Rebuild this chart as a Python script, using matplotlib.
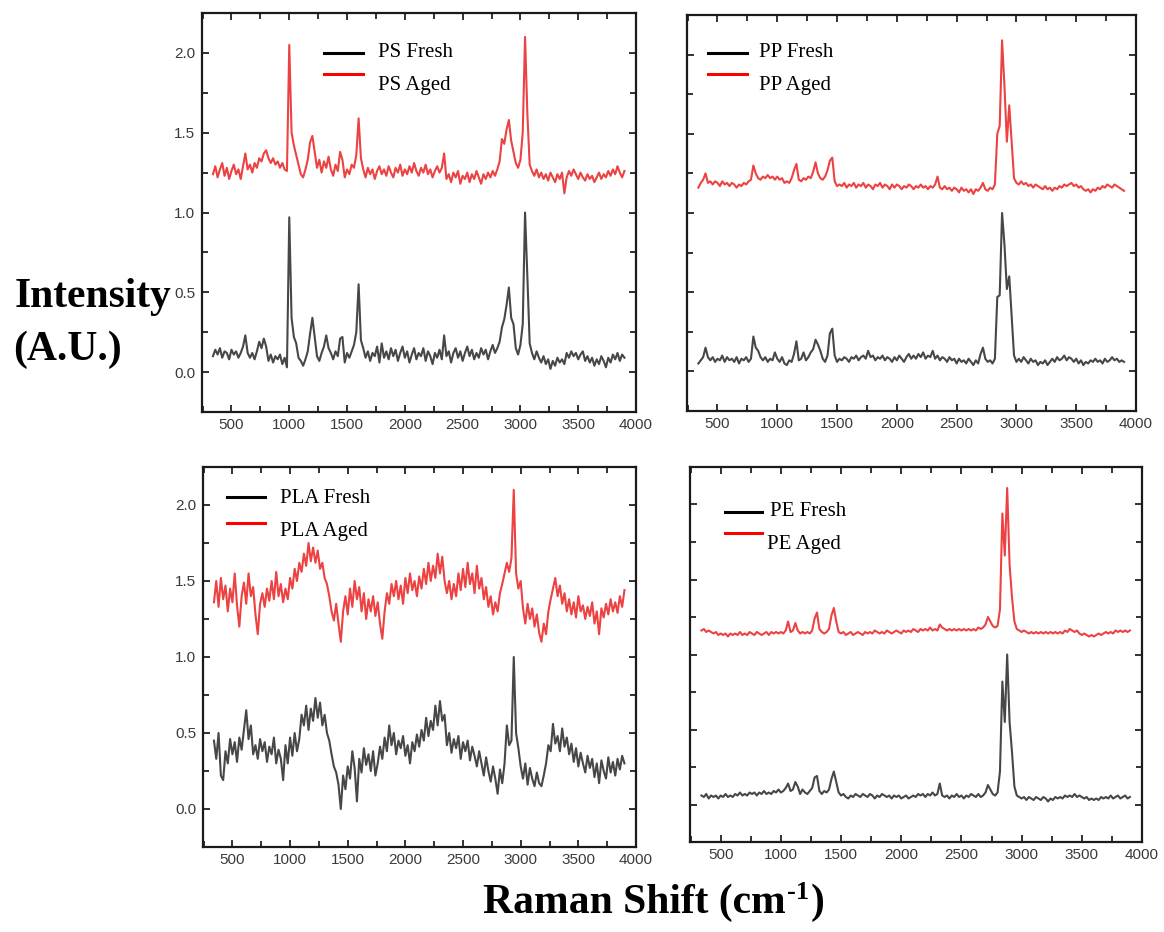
import numpy as np
import matplotlib
matplotlib.use("Agg")
import matplotlib.pyplot as plt
from matplotlib.lines import Line2D
from matplotlib.ticker import MultipleLocator

# Raman shift sampling grid (cm^-1)
raman_shift = np.arange(340, 3901, 20)

ps_fresh = [
    0.10, 0.14, 0.11, 0.15, 0.09, 0.13, 0.12, 0.08, 0.14, 0.11,
    0.13, 0.09, 0.12, 0.16, 0.23, 0.12, 0.09, 0.12, 0.08, 0.13,
    0.19, 0.15, 0.21, 0.16, 0.07, 0.11, 0.06, 0.10, 0.08, 0.11,
    0.05, 0.09, 0.03, 0.97, 0.34, 0.22, 0.18, 0.09, 0.07, 0.04,
    0.08, 0.13, 0.24, 0.34, 0.22, 0.10, 0.07, 0.12, 0.16, 0.23,
    0.15, 0.12, 0.08, 0.13, 0.10, 0.21, 0.22, 0.06, 0.12, 0.09,
    0.13, 0.17, 0.25, 0.55, 0.20, 0.15, 0.09, 0.13, 0.07, 0.12,
    0.10, 0.16, 0.06, 0.18, 0.09, 0.13, 0.08, 0.15, 0.10, 0.14,
    0.07, 0.12, 0.16, 0.09, 0.13, 0.06, 0.11, 0.15, 0.08, 0.12,
    0.10, 0.15, 0.07, 0.13, 0.10, 0.05, 0.12, 0.09, 0.14, 0.08,
    0.23, 0.10, 0.13, 0.06, 0.12, 0.15, 0.09, 0.13, 0.07, 0.12,
    0.16, 0.10, 0.14, 0.08, 0.12, 0.09, 0.15, 0.11, 0.14, 0.08,
    0.13, 0.17, 0.12, 0.15, 0.19, 0.28, 0.33, 0.42, 0.53, 0.34,
    0.30, 0.15, 0.11, 0.17, 0.30, 1.00, 0.60, 0.18, 0.12, 0.08,
    0.13, 0.09, 0.06, 0.10, 0.05, 0.08, 0.02, 0.07, 0.04, 0.09,
    0.06, 0.08, 0.05, 0.12, 0.09, 0.13, 0.10, 0.12, 0.08, 0.11,
    0.13, 0.07, 0.10, 0.06, 0.09, 0.04, 0.08, 0.05, 0.10, 0.07,
    0.03, 0.09, 0.06, 0.11, 0.08, 0.12, 0.07, 0.11, 0.09,
]

ps_aged = [
    1.24, 1.29, 1.22, 1.27, 1.31, 1.23, 1.28, 1.21, 1.26, 1.30,
    1.24, 1.27, 1.21, 1.29, 1.37, 1.27, 1.30, 1.25, 1.31, 1.28,
    1.34, 1.32, 1.37, 1.39, 1.34, 1.31, 1.34, 1.30, 1.32, 1.28,
    1.31, 1.27, 1.26, 2.05, 1.50, 1.42, 1.36, 1.30, 1.24, 1.22,
    1.27, 1.33, 1.44, 1.48, 1.38, 1.28, 1.33, 1.25, 1.32, 1.28,
    1.35, 1.27, 1.23, 1.30, 1.26, 1.38, 1.33, 1.22, 1.27, 1.24,
    1.30, 1.28, 1.36, 1.59, 1.34, 1.27, 1.22, 1.28, 1.24, 1.27,
    1.21, 1.26, 1.29, 1.24, 1.27, 1.23, 1.29, 1.25, 1.22, 1.28,
    1.25, 1.30, 1.23, 1.27, 1.24, 1.29, 1.25, 1.31, 1.26, 1.23,
    1.28, 1.25, 1.30, 1.24, 1.27, 1.22, 1.26, 1.29, 1.25, 1.28,
    1.37, 1.21, 1.24, 1.19, 1.25, 1.22, 1.26, 1.18, 1.23, 1.21,
    1.25, 1.19, 1.24, 1.21, 1.26, 1.22, 1.18, 1.24, 1.21, 1.25,
    1.22, 1.26, 1.23, 1.27, 1.32, 1.46, 1.43, 1.52, 1.58, 1.45,
    1.38, 1.31, 1.28, 1.33, 1.50, 2.10, 1.62, 1.30, 1.26, 1.23,
    1.27, 1.22, 1.25, 1.21, 1.24, 1.20, 1.25, 1.22, 1.19, 1.24,
    1.21, 1.25, 1.12, 1.22, 1.26, 1.23, 1.27, 1.24, 1.21, 1.25,
    1.22, 1.20, 1.24, 1.21, 1.23, 1.19, 1.22, 1.25, 1.21, 1.24,
    1.22, 1.26, 1.23, 1.27, 1.24, 1.29, 1.25, 1.22, 1.26,
]

pp_fresh = [
    0.05, 0.07, 0.09, 0.15, 0.09, 0.07, 0.09, 0.06, 0.08, 0.07,
    0.10, 0.06, 0.09, 0.07, 0.08, 0.06, 0.09, 0.05, 0.08, 0.07,
    0.09, 0.06, 0.08, 0.22, 0.15, 0.13, 0.09, 0.07, 0.09, 0.06,
    0.08, 0.07, 0.12, 0.08, 0.06, 0.09, 0.05, 0.04, 0.07, 0.06,
    0.11, 0.19, 0.07, 0.08, 0.12, 0.07, 0.09, 0.12, 0.14, 0.20,
    0.17, 0.13, 0.08, 0.06, 0.10, 0.24, 0.27, 0.10, 0.06, 0.08,
    0.07, 0.09, 0.08, 0.06, 0.09, 0.08, 0.10, 0.07, 0.09, 0.10,
    0.08, 0.13, 0.09, 0.10, 0.07, 0.09, 0.08, 0.10, 0.07, 0.09,
    0.08, 0.06, 0.09, 0.07, 0.10, 0.08, 0.06, 0.09, 0.11, 0.08,
    0.10, 0.08, 0.11, 0.09, 0.12, 0.08, 0.10, 0.09, 0.13, 0.08,
    0.10, 0.07, 0.09, 0.08, 0.06, 0.09, 0.07, 0.08, 0.05, 0.08,
    0.06, 0.07, 0.05, 0.08, 0.06, 0.04, 0.07, 0.05, 0.11, 0.15,
    0.08, 0.06, 0.07, 0.05, 0.08, 0.47, 0.48, 1.00, 0.80, 0.52,
    0.60, 0.35, 0.10, 0.06, 0.08, 0.06, 0.09, 0.07, 0.05, 0.08,
    0.06, 0.07, 0.04, 0.06, 0.05, 0.07, 0.04, 0.06, 0.08, 0.06,
    0.09, 0.07, 0.08, 0.10, 0.07, 0.09, 0.08, 0.06, 0.08, 0.05,
    0.07, 0.04, 0.06, 0.05, 0.07, 0.06, 0.08, 0.06, 0.07, 0.05,
    0.08, 0.06, 0.07, 0.09, 0.07, 0.08, 0.06, 0.07, 0.06,
]

pp_aged = [
    1.16, 1.19, 1.21, 1.25, 1.19, 1.20, 1.18, 1.20, 1.19, 1.17,
    1.20, 1.18, 1.19, 1.17, 1.19, 1.18, 1.16, 1.18, 1.17, 1.19,
    1.18, 1.20, 1.21, 1.30, 1.25, 1.22, 1.21, 1.23, 1.22, 1.24,
    1.22, 1.23, 1.21, 1.23, 1.21, 1.22, 1.19, 1.20, 1.19, 1.22,
    1.27, 1.31, 1.21, 1.20, 1.22, 1.21, 1.23, 1.22, 1.26, 1.32,
    1.25, 1.22, 1.21, 1.23, 1.27, 1.33, 1.35, 1.20, 1.17, 1.18,
    1.17, 1.19, 1.16, 1.18, 1.17, 1.19, 1.16, 1.18, 1.17, 1.19,
    1.16, 1.18, 1.17, 1.15, 1.18, 1.17, 1.19, 1.16, 1.18, 1.17,
    1.15, 1.18, 1.16, 1.18, 1.17, 1.15, 1.17, 1.16, 1.18, 1.17,
    1.15, 1.17, 1.16, 1.18, 1.16, 1.17, 1.15, 1.17, 1.16, 1.18,
    1.23, 1.16, 1.15, 1.17, 1.15, 1.16, 1.14, 1.16, 1.15, 1.13,
    1.16, 1.14, 1.15, 1.13, 1.15, 1.12, 1.15, 1.14, 1.16, 1.19,
    1.15, 1.14, 1.16, 1.15, 1.18, 1.50, 1.55, 2.09, 1.80, 1.45,
    1.68, 1.45, 1.22, 1.19, 1.18, 1.20, 1.18, 1.19, 1.17, 1.18,
    1.16, 1.18, 1.17, 1.16, 1.15, 1.17, 1.15, 1.16, 1.14, 1.16,
    1.15, 1.17, 1.16, 1.18, 1.17, 1.18, 1.19, 1.17, 1.18, 1.16,
    1.17, 1.15, 1.14, 1.15, 1.13, 1.15, 1.14, 1.16, 1.15, 1.17,
    1.16, 1.18, 1.17, 1.16, 1.18, 1.17, 1.16, 1.15, 1.14,
]

pla_fresh = [
    0.45, 0.33, 0.50, 0.22, 0.19, 0.38, 0.30, 0.46, 0.36, 0.44,
    0.31, 0.47, 0.39, 0.52, 0.65, 0.46, 0.55, 0.36, 0.42, 0.33,
    0.46, 0.38, 0.44, 0.31, 0.41, 0.36, 0.47, 0.30, 0.39, 0.33,
    0.19, 0.42, 0.30, 0.47, 0.35, 0.50, 0.38, 0.46, 0.62, 0.55,
    0.68, 0.52, 0.66, 0.58, 0.73, 0.60, 0.70, 0.55, 0.62, 0.50,
    0.45, 0.36, 0.28, 0.24, 0.16, 0.00, 0.22, 0.13, 0.28, 0.20,
    0.38, 0.27, 0.05, 0.33, 0.24, 0.40, 0.29, 0.36, 0.25, 0.38,
    0.22, 0.30, 0.41, 0.33, 0.47, 0.38, 0.55, 0.42, 0.50, 0.36,
    0.45, 0.40, 0.48, 0.35, 0.42, 0.30, 0.44, 0.38, 0.49, 0.41,
    0.52, 0.45, 0.60, 0.48, 0.58, 0.52, 0.68, 0.55, 0.71, 0.58,
    0.62, 0.42, 0.50, 0.37, 0.46, 0.40, 0.48, 0.33, 0.44, 0.38,
    0.45, 0.32, 0.41, 0.35, 0.28, 0.38, 0.30, 0.22, 0.34, 0.25,
    0.18, 0.28, 0.20, 0.10, 0.26, 0.17, 0.30, 0.55, 0.42, 0.45,
    1.00, 0.50, 0.40, 0.28, 0.20, 0.30, 0.16, 0.27, 0.20, 0.15,
    0.24, 0.17, 0.15, 0.22, 0.30, 0.42, 0.38, 0.56, 0.43, 0.48,
    0.38, 0.53, 0.41, 0.47, 0.36, 0.43, 0.31, 0.40, 0.28, 0.37,
    0.30, 0.24, 0.35, 0.27, 0.33, 0.21, 0.30, 0.17, 0.32, 0.25,
    0.20, 0.34, 0.24, 0.31, 0.22, 0.33, 0.26, 0.35, 0.30,
]

pla_aged = [
    1.36, 1.50, 1.33, 1.52, 1.38, 1.47, 1.30, 1.45, 1.36, 1.55,
    1.34, 1.20, 1.40, 1.49, 1.35, 1.55, 1.40, 1.46, 1.28, 1.15,
    1.35, 1.42, 1.33, 1.45, 1.37, 1.50, 1.38, 1.56, 1.40, 1.48,
    1.36, 1.45, 1.38, 1.52, 1.45, 1.58, 1.50, 1.62, 1.56, 1.68,
    1.60, 1.75, 1.63, 1.72, 1.62, 1.70, 1.58, 1.62, 1.52, 1.48,
    1.40, 1.30, 1.24, 1.35, 1.22, 1.10, 1.30, 1.40, 1.28, 1.45,
    1.33, 1.50, 1.38, 1.46, 1.30, 1.42, 1.25, 1.38, 1.30, 1.40,
    1.27, 1.36, 1.22, 1.12, 1.30, 1.42, 1.35, 1.48, 1.40, 1.50,
    1.38, 1.47, 1.35, 1.52, 1.42, 1.55, 1.44, 1.50, 1.40, 1.53,
    1.45, 1.58, 1.48, 1.62, 1.50, 1.60, 1.52, 1.68, 1.55, 1.66,
    1.50, 1.42, 1.50, 1.38, 1.48, 1.40, 1.55, 1.44, 1.58, 1.46,
    1.62, 1.48, 1.55, 1.42, 1.60, 1.45, 1.52, 1.38, 1.46, 1.33,
    1.40, 1.28, 1.36, 1.30, 1.42, 1.48, 1.55, 1.62, 1.56, 1.65,
    2.10, 1.55, 1.45, 1.50, 1.32, 1.22, 1.35, 1.25, 1.32, 1.20,
    1.28, 1.16, 1.10, 1.22, 1.15, 1.30, 1.38, 1.45, 1.52, 1.40,
    1.47, 1.35, 1.42, 1.30, 1.38, 1.28, 1.36, 1.26, 1.40, 1.30,
    1.34, 1.25, 1.33, 1.27, 1.36, 1.22, 1.30, 1.15, 1.32, 1.26,
    1.35, 1.28, 1.38, 1.30, 1.36, 1.29, 1.40, 1.33, 1.44,
]

pe_fresh = [
    0.06, 0.05, 0.07, 0.04, 0.06, 0.05, 0.06, 0.04, 0.06, 0.05,
    0.07, 0.05, 0.06, 0.05, 0.07, 0.06, 0.08, 0.06, 0.07, 0.06,
    0.08, 0.07, 0.08, 0.06, 0.08, 0.07, 0.09, 0.07, 0.08, 0.07,
    0.09, 0.08, 0.10, 0.08, 0.09, 0.11, 0.14, 0.09, 0.10, 0.15,
    0.12, 0.07, 0.10, 0.08, 0.07, 0.09, 0.11, 0.18, 0.19, 0.09,
    0.07, 0.09, 0.08, 0.10, 0.17, 0.22, 0.15, 0.08, 0.06, 0.07,
    0.05, 0.04, 0.06, 0.05, 0.07, 0.06, 0.05, 0.07, 0.06, 0.05,
    0.07, 0.06, 0.04, 0.06, 0.05, 0.07, 0.06, 0.05, 0.06, 0.04,
    0.06, 0.05, 0.06, 0.04, 0.05, 0.06, 0.04, 0.05, 0.06, 0.05,
    0.07, 0.06, 0.07, 0.05, 0.07, 0.06, 0.08, 0.06, 0.07, 0.14,
    0.06, 0.05, 0.06, 0.04, 0.06, 0.05, 0.07, 0.05, 0.06, 0.04,
    0.06, 0.05, 0.07, 0.06, 0.05, 0.07, 0.05, 0.06, 0.08, 0.13,
    0.10, 0.07, 0.06, 0.08, 0.22, 0.82, 0.55, 1.00, 0.55, 0.35,
    0.12, 0.06, 0.05, 0.04, 0.05, 0.03, 0.05, 0.04, 0.03, 0.05,
    0.04, 0.03, 0.05, 0.04, 0.02, 0.04, 0.03, 0.05, 0.04, 0.05,
    0.04, 0.06, 0.05, 0.06, 0.05, 0.07, 0.05, 0.06, 0.05, 0.04,
    0.05, 0.03, 0.04, 0.03, 0.04, 0.03, 0.05, 0.04, 0.05, 0.04,
    0.06, 0.04, 0.05, 0.06, 0.04, 0.05, 0.06, 0.04, 0.05,
]

pe_aged = [
    1.16, 1.17, 1.15, 1.16, 1.15, 1.14, 1.15, 1.13, 1.14, 1.13,
    1.14, 1.12, 1.14, 1.13, 1.14, 1.13, 1.15, 1.13, 1.14, 1.13,
    1.15, 1.14, 1.13, 1.15, 1.14, 1.13, 1.14, 1.15, 1.13, 1.15,
    1.14, 1.15, 1.14, 1.15, 1.14, 1.16, 1.22, 1.15, 1.16, 1.21,
    1.16, 1.14, 1.15, 1.14, 1.15, 1.14, 1.16, 1.24, 1.28, 1.17,
    1.15, 1.14, 1.15, 1.17, 1.26, 1.31, 1.22, 1.15, 1.14, 1.15,
    1.13, 1.14, 1.15, 1.13, 1.14, 1.15, 1.14, 1.13, 1.15, 1.14,
    1.15, 1.14, 1.16, 1.15, 1.14, 1.15, 1.14, 1.16, 1.15, 1.14,
    1.15, 1.16, 1.15, 1.14, 1.16, 1.15, 1.16, 1.15, 1.17, 1.16,
    1.15, 1.17, 1.16, 1.17, 1.16, 1.18, 1.16, 1.17, 1.16, 1.20,
    1.18, 1.17, 1.16, 1.17, 1.16, 1.17, 1.16, 1.17, 1.16, 1.17,
    1.16, 1.17, 1.16, 1.17, 1.16, 1.18, 1.17, 1.18, 1.20, 1.25,
    1.22, 1.19, 1.18, 1.19, 1.30, 1.94, 1.66, 2.11, 1.60, 1.38,
    1.22, 1.17, 1.16, 1.15, 1.16, 1.15, 1.14, 1.15, 1.14, 1.15,
    1.14, 1.15, 1.14, 1.15, 1.14, 1.15, 1.14, 1.15, 1.14, 1.15,
    1.14, 1.16, 1.15, 1.17, 1.16, 1.15, 1.16, 1.14, 1.13, 1.14,
    1.13, 1.12, 1.13, 1.12, 1.13, 1.14, 1.13, 1.14, 1.15, 1.14,
    1.15, 1.14, 1.16, 1.15, 1.16, 1.15, 1.16, 1.15, 1.16,
]

labels_fresh = ["PS Fresh", "PP Fresh", "PLA Fresh", "PE Fresh"]
labels_aged = ["PS Aged", "PP Aged", "PLA Aged", "PE Aged"]

W, H = 1164, 932
fig = plt.figure(figsize=(W / 100, H / 100), dpi=100)
fig.patch.set_facecolor("white")

GREY = "#474747"
RED = "#EC4242"


def rect(l, t, r, b):
    return [l / W, 1 - b / H, (r - l) / W, (b - t) / H]


def fx(x):
    return x / W


def fy(y):
    return 1 - y / H


panels = [
    dict(box=(202, 13, 636, 412), fresh=ps_fresh, aged=ps_aged, ylab=True,
         leg=dict(hx=(324, 363), hy=(53, 74), tx=(378, 378), ty=(57, 90))),
    dict(box=(687, 15, 1136, 411), fresh=pp_fresh, aged=pp_aged, ylab=False,
         leg=dict(hx=(708, 747), hy=(53, 74), tx=(759, 759), ty=(57, 90))),
    dict(box=(203, 467, 636, 847), fresh=pla_fresh, aged=pla_aged, ylab=True,
         leg=dict(hx=(227, 265), hy=(497, 523), tx=(280, 280), ty=(503, 536))),
    dict(box=(690, 467, 1142, 842), fresh=pe_fresh, aged=pe_aged, ylab=False,
         leg=dict(hx=(725, 762), hy=(512, 533), tx=(770, 767), ty=(516, 549))),
]

for k, p in enumerate(panels):
    ax = fig.add_axes(rect(*p["box"]))
    ax.plot(raman_shift, p["fresh"], color=GREY, lw=1.5, zorder=3)
    ax.plot(raman_shift, p["aged"], color=RED, lw=1.5, zorder=3)
    ax.set_xlim(245, 4000)
    ax.set_ylim(-0.25, 2.25)
    ax.xaxis.set_major_locator(MultipleLocator(500))
    ax.xaxis.set_minor_locator(MultipleLocator(250))
    ax.yaxis.set_major_locator(MultipleLocator(0.5))
    ax.yaxis.set_minor_locator(MultipleLocator(0.25))
    ax.tick_params(which="both", direction="in", top=True, right=True,
                   width=1.3, colors="#222222", labelcolor="#3a3a3a",
                   labelsize=11)
    ax.tick_params(which="major", length=5)
    ax.tick_params(which="minor", length=4)
    ax.tick_params(axis="x", pad=4)
    ax.tick_params(axis="y", pad=5)
    for lab in ax.get_xticklabels() + ax.get_yticklabels():
        lab.set_family("Liberation Sans")
    if not p["ylab"]:
        ax.tick_params(labelleft=False)
    for s in ax.spines.values():
        s.set_linewidth(1.6)
        s.set_color("#1a1a1a")

    lg = p["leg"]
    for hy, col in zip(lg["hy"], ["black", "red"]):
        fig.add_artist(Line2D([fx(lg["hx"][0]), fx(lg["hx"][1])], [fy(hy), fy(hy)],
                              transform=fig.transFigure, color=col, lw=2.2))
    for tx, ty, txt in zip(lg["tx"], lg["ty"], [labels_fresh[k], labels_aged[k]]):
        fig.text(fx(tx), fy(ty), txt, family="Liberation Serif", fontsize=15,
                 ha="left", va="baseline", color="black")

big = dict(family="Liberation Serif", fontsize=30, fontweight="bold", va="baseline")
fig.text(fx(15), fy(307), "Intensity", ha="left", **big)
fig.text(fx(13), fy(360), "(A.U.)", ha="left", **big)

# x-axis title with a raised "-1"
renderer = fig.canvas.get_renderer()
t1 = fig.text(fx(483), fy(913), "Raman Shift (cm", ha="left", **big)
x_end = t1.get_window_extent(renderer).x1
t2 = fig.text(x_end / W + 1.5 / W, fy(899), "-1", ha="left",
              family="Liberation Serif", fontsize=19, fontweight="bold", va="baseline")
x_end2 = t2.get_window_extent(renderer).x1
fig.text(x_end2 / W + 1.0 / W, fy(913), ")", ha="left", **big)

fig.savefig("out.png", dpi=100)
